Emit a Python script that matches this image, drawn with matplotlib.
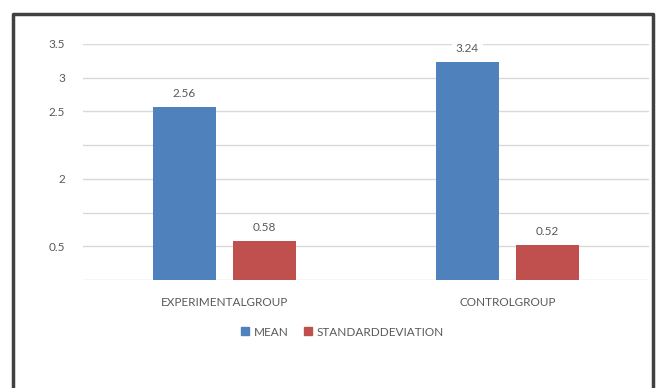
import matplotlib.pyplot as plt
from matplotlib.lines import Line2D
import numpy as np

groups = ["EXPERIMENTALGROUP", "CONTROLGROUP"]
series_names = ["MEAN", "STANDARDDEVIATION"]
mean_vals = [2.56, 3.24]
sd_vals = [0.58, 0.52]
tick_vals = [0, 0.5, 1, 1.5, 2, 2.5, 3, 3.5]
tick_labels = ["", "0.5", "", "2", "", "2.5", "3", "3.5"]

plt.rcParams["font.family"] = ["Lato", "DejaVu Sans"]
grey = "#595959"
colors = ["#4F81BD", "#C0504D"]

fig = plt.figure(figsize=(6.57, 3.88), dpi=100)
ax = fig.add_axes([0.1263, 0.2784, 0.8615, 0.6082])

x = np.arange(len(groups))
width = 0.223
offset = 0.1415
for vals, off, c, name in zip([mean_vals, sd_vals], [-offset, offset], colors, series_names):
    bars = ax.bar(x + off, vals, width, color=c, label=name, zorder=3)
    for b, v in zip(bars, vals):
        ax.text(b.get_x() + b.get_width() / 2, v + 0.2, f"{v:.2f}",
                ha="center", va="center", fontsize=8.5, color=grey, zorder=4,
                clip_on=False,
                bbox=dict(facecolor="white", edgecolor="none", pad=3))

ax.set_xlim(-0.5, 1.5)
ax.set_ylim(0, 3.5)
ax.set_yticks(tick_vals)
ax.set_yticklabels(tick_labels)
ax.set_xticks(x)
ax.set_xticklabels(groups)
ax.tick_params(axis="both", length=0, labelsize=8.5, labelcolor=grey)
ax.tick_params(axis="y", pad=13)
ax.tick_params(axis="x", pad=12)
ax.grid(axis="y", color="#D9D9D9", linewidth=1, zorder=0)
for s in ax.spines.values():
    s.set_visible(False)

handles = [Line2D([], [], marker="s", linestyle="none", color=c, markersize=6) for c in colors]
fig.legend(handles, series_names, loc="center", bbox_to_anchor=(0.52, 0.144),
           ncol=2, frameon=False, fontsize=8.5, labelcolor=grey,
           handletextpad=0.2, columnspacing=1.2, handlelength=1)

# outer frame around the chart
fx0, fx1 = 13 / 657, 653 / 657
fy1 = 1 - 14 / 388
fig.add_artist(Line2D([fx0, fx0, fx1, fx1], [-0.1, fy1, fy1, -0.1],
                      transform=fig.transFigure, color="#404040", linewidth=2.5))

fig.savefig("out.png", dpi=100)
